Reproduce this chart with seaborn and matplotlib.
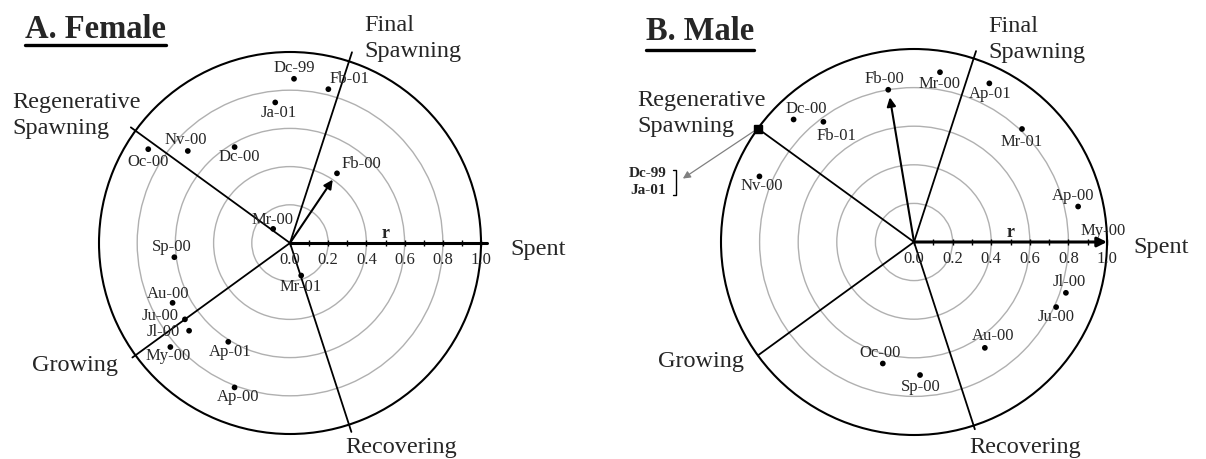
import numpy as np
import pandas as pd
import matplotlib
matplotlib.use('Agg')
import matplotlib.pyplot as plt
from matplotlib.lines import Line2D
from matplotlib.transforms import IdentityTransform
import seaborn as sns

sns.set_theme(style='white')
plt.rcParams['font.family'] = ['Liberation Serif', 'DejaVu Serif']

# reproductive phases (direction of each phase spoke, degrees)
phases = ['Spent', 'Final\nSpawning', 'Regenerative\nSpawning', 'Growing', 'Recovering']
phase_deg = [0, 72, 144, 216, 288]
r_ticks = [0.0, 0.2, 0.4, 0.6, 0.8, 1.0]

# A. Female: monthly vectors (angle in degrees, length r)
female_month = ['Dc-99', 'Fb-00', 'Mr-00', 'Ap-00', 'My-00', 'Ju-00', 'Jl-00', 'Au-00',
                'Sp-00', 'Oc-00', 'Nv-00', 'Dc-00', 'Ja-01', 'Fb-01', 'Mr-01', 'Ap-01']
female_deg = [88.6, 56, 140, 249, 221, 216, 221, 207, 187, 146.5, 138, 120, 96, 76, 289, 238]
female_r = [0.86, 0.44, 0.115, 0.81, 0.83, 0.68, 0.70, 0.69, 0.61, 0.89, 0.72, 0.58, 0.74, 0.83, 0.18, 0.61]
female_mean = (56, 0.40)

# B. Male
male_month = ['Dc-99', 'Fb-00', 'Mr-00', 'Ap-00', 'My-00', 'Ju-00', 'Jl-00', 'Au-00',
              'Sp-00', 'Oc-00', 'Nv-00', 'Dc-00', 'Ja-01', 'Fb-01', 'Mr-01', 'Ap-01']
male_deg = [144, 99.6, 81.3, 12.2, 0, 335.4, 341.5, 303.8, 272.6, 255.6, 157, 134.5, 144, 127, 46.3, 64.6]
male_r = [1.0, 0.80, 0.89, 0.87, 1.0, 0.81, 0.83, 0.66, 0.69, 0.65, 0.87, 0.89, 1.0, 0.78, 0.81, 0.91]
male_mean = (99.5, 0.76)

# label offsets (pixels) - layout only
female_lab_off = {
    'Dc-99': (0, 11), 'Fb-00': (24, 9), 'Mr-00': (-1, 9), 'Ap-00': (4, -10),
    'My-00': (-2, -9), 'Ju-00': (-25, 3), 'Jl-00': (-26, -1), 'Au-00': (-4, 9),
    'Sp-00': (-3, 10), 'Oc-00': (0, -13), 'Nv-00': (-2, 11), 'Dc-00': (5, -10),
    'Ja-01': (3, -11), 'Fb-01': (21, 10), 'Mr-01': (-1, -11), 'Ap-01': (2, -10)}
male_lab_off = {
    'Fb-00': (-4, 11), 'Mr-00': (0, -12), 'Ap-00': (-5, 11), 'My-00': (-4, 11),
    'Ju-00': (0, -10), 'Jl-00': (3, 11), 'Au-00': (8, 12), 'Sp-00': (1, -12),
    'Oc-00': (-3, 11), 'Nv-00': (2, -10), 'Dc-00': (13, 10), 'Fb-01': (13, -14),
    'Mr-01': (0, -13), 'Ap-01': (1, -11)}

female_spoke_len = [1.0, 1.05, 1.03, 1.02, 1.04]
male_spoke_len = [1.0, 1.04, 1.0, 1.0, 1.02]
female_phase_off = [((29, -7), 'left'), ((12, 14), 'left'), ((10, 12), 'right'),
                    ((-14, -8), 'right'), ((-6, -16), 'left')]
male_phase_off = [((26, -6), 'left'), ((12, 12), 'left'), ((8, 15), 'right'),
                  ((-14, -6), 'right'), ((-6, -18), 'left')]

W, H = 1206, 459
fig = plt.figure(figsize=(W / 100, H / 100), dpi=100)


def axes_at(cx, cy, rad):
    return fig.add_axes([(cx - rad) / W, (H - cy - rad) / H, 2 * rad / W, 2 * rad / H],
                        projection='polar')


def panel(ax, months, deg, rr, mean, lab_off, spoke_len, phase_off, male=False):
    df = pd.DataFrame({'month': months, 'theta': np.deg2rad(deg), 'r': rr})
    ax.set_facecolor('none')
    ax.set_ylim(0, 1)
    ax.set_yticks([0.2, 0.4, 0.6, 0.8])
    ax.set_yticklabels([])
    ax.set_xticks([])
    ax.yaxis.grid(True, color='#b0b0b0', lw=1.0)
    ax.spines['polar'].set_color('black')
    ax.spines['polar'].set_linewidth(1.5)

    # phase spokes
    for name, d, L, ((ox, oy), ha) in zip(phases, phase_deg, spoke_len, phase_off):
        t = np.deg2rad(d)
        if d == 0:
            continue
        ax.plot([t, t], [0, L], color='black', lw=1.3, clip_on=False, zorder=3)
        ax.annotate(name, (t, L), xytext=(ox, oy), textcoords='offset pixels',
                    ha=ha, va='center', fontsize=17.5, linespacing=1.3,
                    multialignment='left', annotation_clip=False)
    # spent axis with r scale
    if male:
        ax.annotate('', xy=(0, 1.0), xytext=(0, 0),
                    arrowprops=dict(arrowstyle='-|>', color='black', lw=2.2,
                                    mutation_scale=14, shrinkA=0, shrinkB=0),
                    annotation_clip=False, zorder=4)
    else:
        ax.plot([0, 0], [0, 1.03], color='black', lw=2.2, clip_on=False, zorder=4)
    (ox, oy), ha = phase_off[0]
    ax.annotate(phases[0], (0, spoke_len[0]), xytext=(ox, oy), textcoords='offset pixels',
                ha=ha, va='center', fontsize=17.5, annotation_clip=False)
    ax.plot(np.zeros(11), np.linspace(0, 1, 11), ls='none', marker='|', ms=4,
            color='black', mew=1, clip_on=False, zorder=4)
    for v in r_ticks:
        ax.annotate(f'{v:.1f}', (0, v), xytext=(0, -17), textcoords='offset pixels',
                    ha='center', va='center', fontsize=12, annotation_clip=False)
    ax.annotate('r', (0, 0.5), xytext=(0, 1), textcoords='offset pixels',
                ha='center', va='bottom', fontsize=13, weight='bold', annotation_clip=False)

    # mean vector arrow
    ax.annotate('', xy=(np.deg2rad(mean[0]), mean[1]), xytext=(0, 0),
                arrowprops=dict(arrowstyle='-|>', color='black', lw=1.5,
                                mutation_scale=13, shrinkA=0, shrinkB=0), zorder=5)

    # monthly points
    pts = df[df['r'] < 1.0] if male else df
    sns.scatterplot(data=pts, x='theta', y='r', ax=ax, color='black', s=17,
                    edgecolor='none', legend=False, clip_on=False, zorder=6)
    for _, row in df.iterrows():
        if row['month'] in lab_off:
            ox, oy = lab_off[row['month']]
            ax.annotate(row['month'], (row['theta'], row['r']), xytext=(ox, oy),
                        textcoords='offset pixels', ha='center', va='center',
                        fontsize=12, annotation_clip=False)
    ax.set_xlabel('')
    ax.set_ylabel('')
    ax.set_ylim(0, 1)
    return df


axF = axes_at(290, 243, 191)
panel(axF, female_month, female_deg, female_r, female_mean, female_lab_off,
      female_spoke_len, female_phase_off)

axM = axes_at(914, 242, 193)
dfM = panel(axM, male_month, male_deg, male_r, male_mean, male_lab_off,
            male_spoke_len, male_phase_off, male=True)

# Dc-99 / Ja-01 lie on the regenerative spoke at r = 1
off_pts = dfM[dfM['month'].isin(['Dc-99', 'Ja-01'])]
t0, r0 = off_pts['theta'].iloc[0], off_pts['r'].iloc[0]
axM.plot([t0], [r0], marker='s', ms=6, color='black', clip_on=False, zorder=7)
axM.annotate('', xy=(t0, r0), xytext=(-75, -50), textcoords='offset pixels',
             arrowprops=dict(arrowstyle='<|-', color='#808080', lw=0.9,
                             mutation_scale=11, shrinkA=0, shrinkB=0),
             annotation_clip=False)
axM.annotate('\n'.join(off_pts['month']), (t0, r0), xytext=(-110, -53),
             textcoords='offset pixels', ha='center', va='center', fontsize=11,
             weight='bold', linespacing=1.4, annotation_clip=False)

# titles
tF = fig.text(25 / W, 1 - 29 / H, 'A. Female', ha='left', va='center', fontsize=23.5, weight='bold')
tM = fig.text(646 / W, 1 - 31 / H, 'B. Male', ha='left', va='center', fontsize=23.5, weight='bold')

fig.canvas.draw()
for t, uy in [(tF, 45), (tM, 50)]:
    bb = t.get_window_extent()
    fig.add_artist(Line2D([bb.x0, bb.x1], [H - uy, H - uy], color='black', lw=2.4,
                          transform=IdentityTransform()))

# bracket for the Dc-99 / Ja-01 label
px, py = axM.transData.transform((t0, r0))
bx = px - 82
fig.add_artist(Line2D([bx - 3, bx, bx, bx - 3], [py - 41, py - 41, py - 66, py - 66],
                      color='black', lw=1.0, transform=IdentityTransform()))

fig.savefig('out.png', dpi=100)
